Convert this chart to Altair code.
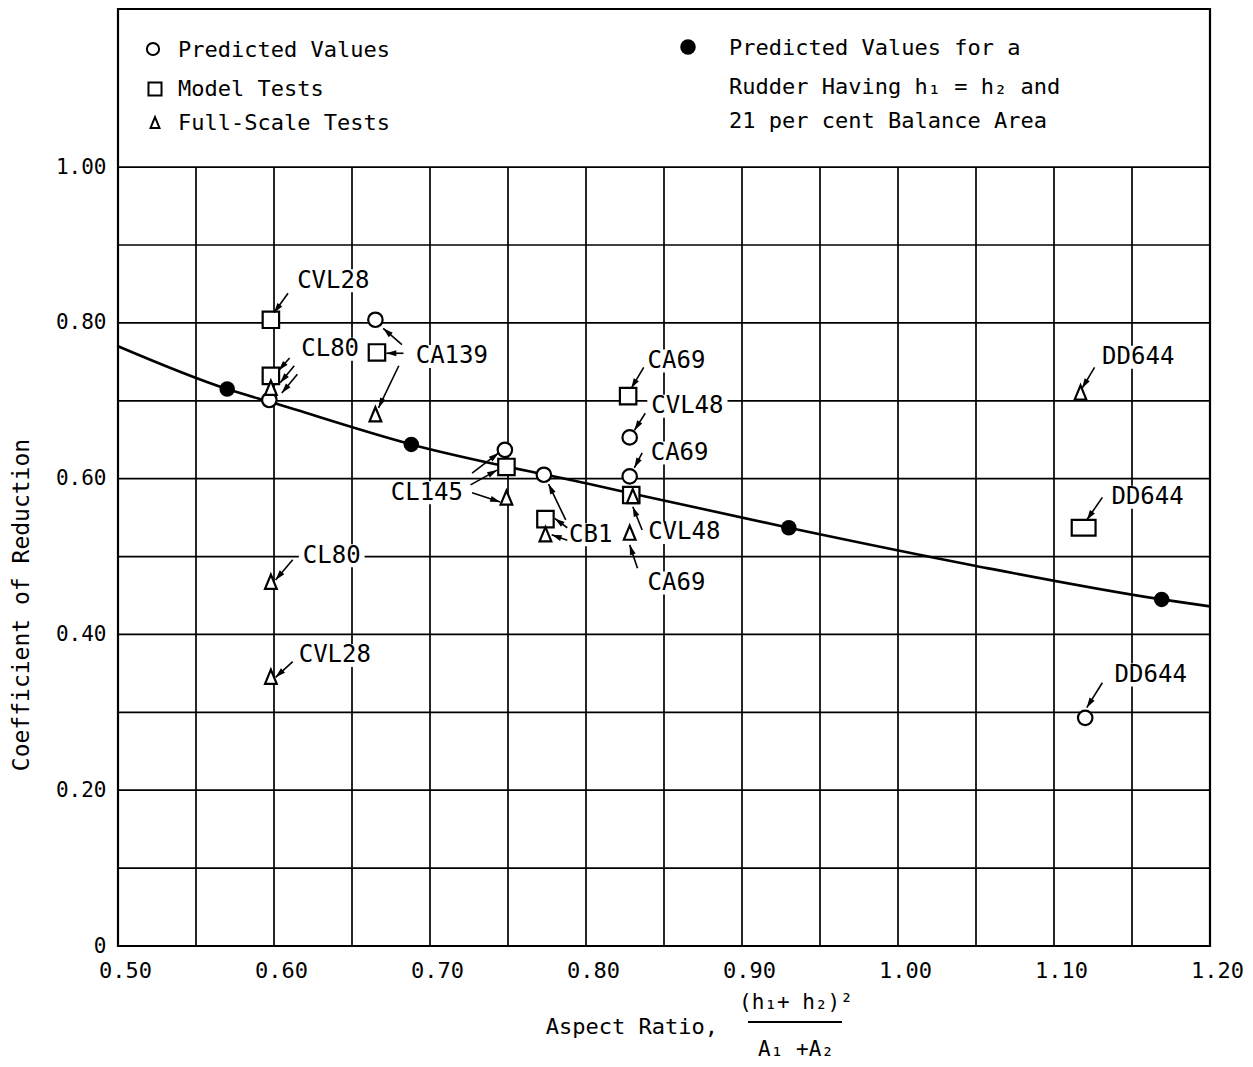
import math
import altair as alt
import pandas as pd

# ---------------- data ----------------
curve_x = [0.50, 0.57, 0.60, 0.688, 0.80, 0.93, 1.05, 1.169, 1.20]
curve_y = [0.770, 0.715, 0.697, 0.644, 0.594, 0.537, 0.488, 0.445, 0.436]

filled_x = [0.570, 0.688, 0.930, 1.169]
filled_y = [0.715, 0.644, 0.537, 0.445]

pred_names = ["CA139", "CL80", "CL145", "CB1", "CVL48", "CA69", "DD644"]
pred_x = [0.665, 0.597, 0.748, 0.773, 0.828, 0.828, 1.120]
pred_y = [0.804, 0.701, 0.637, 0.605, 0.653, 0.603, 0.293]

model_names = ["CVL28", "CL80", "CA139", "CL145", "CB1", "CA69", "CVL48", "DD644"]
model_x = [0.598, 0.598, 0.666, 0.749, 0.774, 0.827, 0.829, 1.119]
model_y = [0.804, 0.732, 0.762, 0.615, 0.548, 0.706, 0.579, 0.537]

full_names = ["CL80", "CA139", "CL145", "CB1", "CVL48", "CA69", "DD644", "CL80", "CVL28"]
full_x = [0.598, 0.665, 0.749, 0.774, 0.830, 0.828, 1.117, 0.598, 0.598]
full_y = [0.716, 0.682, 0.575, 0.528, 0.577, 0.530, 0.710, 0.467, 0.345]

label_text = ["CVL28", "CL80", "CA139", "CL145", "CB1", "CA69", "CVL48", "CA69",
              "CVL48", "CA69", "DD644", "DD644", "DD644", "CL80", "CVL28"]
label_x = [0.638, 0.636, 0.714, 0.698, 0.803, 0.858, 0.865, 0.860,
           0.863, 0.858, 1.154, 1.160, 1.162, 0.637, 0.639]
label_y = [0.854, 0.766, 0.757, 0.582, 0.528, 0.751, 0.693, 0.633,
           0.531, 0.466, 0.756, 0.576, 0.348, 0.501, 0.373]

arrow_x1 = [0.609, 0.610, 0.613, 0.615, 0.682, 0.683, 0.680, 0.727, 0.726, 0.727,
            0.787, 0.788, 0.788, 0.837, 0.838, 0.836, 0.836, 0.833, 1.126, 1.131,
            1.131, 0.612, 0.612]
arrow_y1 = [0.838, 0.755, 0.745, 0.734, 0.772, 0.761, 0.745, 0.607, 0.592, 0.582,
            0.547, 0.537, 0.521, 0.743, 0.684, 0.633, 0.534, 0.485, 0.743, 0.576,
            0.338, 0.496, 0.365]
arrow_x2 = [0.600, 0.603, 0.604, 0.605, 0.670, 0.672, 0.667, 0.744, 0.743, 0.745,
            0.776, 0.780, 0.778, 0.829, 0.831, 0.831, 0.830, 0.828, 1.118, 1.121,
            1.121, 0.601, 0.601]
arrow_y2 = [0.813, 0.739, 0.723, 0.710, 0.793, 0.761, 0.691, 0.633, 0.611, 0.570,
            0.593, 0.549, 0.528, 0.716, 0.662, 0.614, 0.564, 0.515, 0.716, 0.547,
            0.306, 0.470, 0.345]

x_ticks = [0.50, 0.60, 0.70, 0.80, 0.90, 1.00, 1.10, 1.20]
y_ticks = [0.0, 0.2, 0.4, 0.6, 0.8, 1.0]
v_grid = [0.55, 0.60, 0.65, 0.70, 0.75, 0.80, 0.85, 0.90, 0.95, 1.00, 1.05, 1.10, 1.15]
h_grid = [0.1, 0.2, 0.3, 0.4, 0.5, 0.6, 0.7, 0.8, 0.9, 1.0]

legend_left = ["Predicted\u00a0Values", "Model\u00a0Tests", "Full-Scale\u00a0Tests"]
legend_right = ["Predicted\u00a0Values\u00a0for\u00a0a",
                "Rudder\u00a0Having\u00a0h\u2081\u00a0=\u00a0h\u2082\u00a0and",
                "21\u00a0per\u00a0cent\u00a0Balance\u00a0Area"]
y_title = "Coefficient\u00a0of\u00a0Reduction"
x_title = "Aspect\u00a0Ratio,"
x_num = "(h\u2081+\u00a0h\u2082)\u00b2"
x_den = "A\u2081\u00a0+A\u2082"

# ---------------- layout ----------------
W, H = 1092, 937
XD, YD = [0.5, 1.2], [0.0, 1.203]
PXX = W / (XD[1] - XD[0])
PXY = H / (YD[1] - YD[0])
FONT = "DejaVu Sans Mono"
LFS = 24  # data label font size

xs = alt.Scale(domain=XD, nice=False, zero=False)
ys = alt.Scale(domain=YD, nice=False, zero=False)
x_axis = alt.Axis(values=x_ticks, labelExpr="format(datum.value, '.2f')", labelFont=FONT,
                  labelFontSize=22, labelPadding=14, labelOffset=7, labelFlush=False,
                  ticks=False, domain=False, grid=False, title=None, labelColor="black")
y_axis = alt.Axis(values=y_ticks, labelExpr="datum.value == 0 ? '0' : format(datum.value, '.2f')",
                  labelFont=FONT, labelFontSize=21, labelPadding=12, ticks=False,
                  domain=False, grid=False, title=None, labelColor="black")


def X(f):
    return alt.X(f, type="quantitative", scale=xs, axis=x_axis)


def Y(f):
    return alt.Y(f, type="quantitative", scale=ys, axis=y_axis)


df_curve = pd.DataFrame({"x": curve_x, "y": curve_y})
df_filled = pd.DataFrame({"x": filled_x, "y": filled_y})
df_pred = pd.DataFrame({"name": pred_names, "x": pred_x, "y": pred_y})
df_model = pd.DataFrame({"name": model_names, "x": model_x, "y": model_y})
df_model["shape"] = ["M-1.45,-0.95L1.45,-0.95L1.45,0.95L-1.45,0.95Z" if n == "DD644"
                     else "square" for n in model_names]
df_full = pd.DataFrame({"name": full_names, "x": full_x, "y": full_y})
df_lab = pd.DataFrame({"t": label_text, "x": label_x, "y": label_y})


def box_path(n):
    # white backing box behind a label of n monospaced characters (units of r = 10 px)
    hw = (n * 0.602 * LFS / 2 + 4) / 10
    hh = 1.15
    return f"M{-hw:.2f},{-hh}L{hw:.2f},{-hh}L{hw:.2f},{hh}L{-hw:.2f},{hh}Z"


df_lab["box"] = [box_path(len(t)) for t in label_text]
df_arr = pd.DataFrame({"x": arrow_x1, "y": arrow_y1, "x2": arrow_x2, "y2": arrow_y2})
df_arr["ang"] = [math.degrees(math.atan2((b - a) * PXX, (d - c) * PXY)) % 360
                 for a, b, c, d in zip(arrow_x1, arrow_x2, arrow_y1, arrow_y2)]
df_v = pd.DataFrame({"x": v_grid, "y0": [0.0] * len(v_grid), "y1": [1.0] * len(v_grid)})
df_h = pd.DataFrame({"y": h_grid})

hgrid = alt.Chart(df_h).mark_rule(color="black", strokeWidth=1.7).encode(y=Y("y"))
vgrid = alt.Chart(df_v).mark_rule(color="black", strokeWidth=1.7).encode(
    x=X("x"), y=Y("y0"), y2="y1")

halo = alt.Chart(df_lab).mark_point(filled=True, fill="white", strokeWidth=0, size=400,
                                     opacity=1).encode(
    x=X("x"), y=Y("y"), shape=alt.Shape("box:N", scale=None))

curve = alt.Chart(df_curve).mark_line(color="black", strokeWidth=2.6,
                                      interpolate="monotone").encode(x=X("x"), y=Y("y"))

tri_path = "M0,-1.1L-0.85,0.95L0.85,0.95Z"
pred = alt.Chart(df_pred).mark_point(shape="circle", filled=True, fill="white", stroke="black",
                                     strokeWidth=2.2, size=210, opacity=1).encode(x=X("x"), y=Y("y"))
model = alt.Chart(df_model).mark_point(filled=True, fill="white", stroke="black",
                                       strokeWidth=2.2, size=270, opacity=1).encode(
    x=X("x"), y=Y("y"), shape=alt.Shape("shape:N", scale=None))
full = alt.Chart(df_full).mark_point(shape=tri_path, filled=True, fill="white", stroke="black",
                                     strokeWidth=2.2, size=190, opacity=1).encode(x=X("x"), y=Y("y"))
filled = alt.Chart(df_filled).mark_point(shape="circle", filled=True, fill="black",
                                         size=240, opacity=1).encode(x=X("x"), y=Y("y"))

shafts = alt.Chart(df_arr).mark_rule(color="black", strokeWidth=1.6).encode(
    x=X("x"), y=Y("y"), x2="x2", y2="y2")
heads = alt.Chart(df_arr).mark_point(shape="M0,0L-0.3,1L0.3,1Z", filled=True, fill="black",
                                     strokeWidth=0, size=400, opacity=1).encode(
    x=X("x2"), y=Y("y2"), angle=alt.Angle("ang:Q", scale=None))

labels = alt.Chart(df_lab).mark_text(font=FONT, fontSize=LFS, color="black", align="center",
                                      baseline="middle").encode(x=X("x"), y=Y("y"), text="t")

# ---------------- legend box and titles ----------------
df_ll = pd.DataFrame({"t": legend_left, "yy": [41, 80, 114]})
df_lr = pd.DataFrame({"t": legend_right, "yy": [39, 78, 112]})
leg_text_l = alt.Chart(df_ll).mark_text(font=FONT, fontSize=22, align="left",
                                         baseline="middle", color="black").encode(
    x=alt.value(60), y=alt.Y("yy:Q", scale=None), text="t")
leg_text_r = alt.Chart(df_lr).mark_text(font=FONT, fontSize=22, align="left",
                                         baseline="middle", color="black").encode(
    x=alt.value(611), y=alt.Y("yy:Q", scale=None), text="t")

df_one = pd.DataFrame({"k": [0]})
leg_c = alt.Chart(df_one).mark_point(shape="circle", filled=True, fill="white", stroke="black",
                                     strokeWidth=2, size=150, opacity=1).encode(
    x=alt.value(35), y=alt.value(40))
leg_s = alt.Chart(df_one).mark_point(shape="square", filled=True, fill="white", stroke="black",
                                     strokeWidth=2, size=170, opacity=1).encode(
    x=alt.value(37), y=alt.value(80))
leg_t = alt.Chart(df_one).mark_point(shape=tri_path, filled=True, fill="white", stroke="black",
                                     strokeWidth=2, size=110, opacity=1).encode(
    x=alt.value(37), y=alt.value(114))
leg_f = alt.Chart(df_one).mark_point(shape="circle", filled=True, fill="black",
                                     size=240, opacity=1).encode(
    x=alt.value(570), y=alt.value(38))

df_titles = pd.DataFrame({"t": [y_title, x_title, x_num, x_den],
                          "px": [-96, 600, 678, 678], "py": [596, 1018, 994, 1041]})
ttl_y = alt.Chart(df_titles.iloc[[0]]).mark_text(font=FONT, fontSize=23, angle=270,
                                                 align="center", baseline="middle",
                                                 color="black").encode(
    x=alt.X("px:Q", scale=None), y=alt.Y("py:Q", scale=None), text="t")
ttl_x = alt.Chart(df_titles.iloc[[1]]).mark_text(font=FONT, fontSize=22, align="right",
                                                 baseline="middle", color="black").encode(
    x=alt.X("px:Q", scale=None), y=alt.Y("py:Q", scale=None), text="t")
ttl_f = alt.Chart(df_titles.iloc[[2, 3]]).mark_text(font=FONT, fontSize=21, align="center",
                                                    baseline="middle", color="black").encode(
    x=alt.X("px:Q", scale=None), y=alt.Y("py:Q", scale=None), text="t")
bar = alt.Chart(df_one).mark_rule(color="black", strokeWidth=2).encode(
    x=alt.value(630), x2=alt.value(724), y=alt.value(1013))

chart = alt.layer(
    hgrid, vgrid, halo, curve, pred, model, full, filled, shafts, heads, labels,
    leg_text_l, leg_text_r, leg_c, leg_s, leg_t, leg_f, ttl_y, ttl_x, ttl_f, bar
).properties(
    width=W, height=H,
    autosize=alt.AutoSizeParams(type="none"),
    padding={"left": 118, "top": 9, "right": 43, "bottom": 121},
    background="white",
).configure_view(stroke="black", strokeWidth=2.2)

chart.save("out.html", embed_options={"renderer": "svg", "actions": False})
